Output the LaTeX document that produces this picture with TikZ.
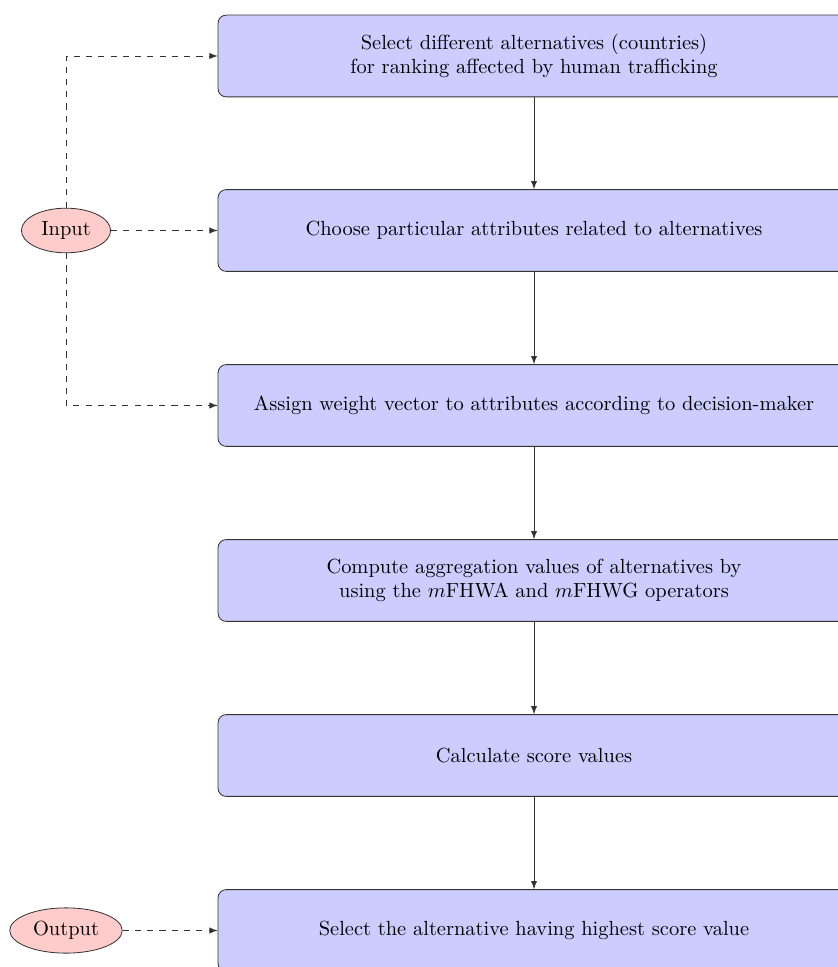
\documentclass[tikz,border=0pt]{standalone}
\usetikzlibrary{shapes.geometric,arrows}
\begin{document}
\begin{tikzpicture}[x=0.489pt,y=-0.489pt,>=latex,
  stepbox/.style={draw=black!80,fill=blue!20,rounded corners=4pt,minimum width=309pt,minimum height=40pt,align=center,inner sep=2pt},
  ioell/.style={draw=black!80,fill=red!20,ellipse},
  flow/.style={->,draw=black!80},
  dflow/.style={->,draw=black!80,dashed}]
\useasboundingbox (0,0) rectangle (837,967);
\node[stepbox] (s1) at (534,56) {Select different alternatives (countries)\\for ranking affected by human trafficking};
\node[stepbox] (s2) at (534,230.5) {Choose particular attributes related to alternatives};
\node[stepbox] (s3) at (534,405.5) {Assign weight vector to attributes according to decision-maker};
\node[stepbox] (s4) at (534,580.5) {Compute aggregation values of alternatives by\\using the $m$FHWA and $m$FHWG operators};
\node[stepbox] (s5) at (534,755.5) {Calculate score values};
\node[stepbox] (s6) at (534,930.5) {Select the alternative having highest score value};
\node[ioell] (in) at (66,230.5) {Input};
\node[ioell] (out) at (66,930.5) {Output};
\draw[flow] (s1) -- (s2);
\draw[flow] (s2) -- (s3);
\draw[flow] (s3) -- (s4);
\draw[flow] (s4) -- (s5);
\draw[flow] (s5) -- (s6);
\draw[dflow] (in) -- (s2);
\draw[dflow] (in.north) |- (s1.west);
\draw[dflow] (in.south) |- (s3.west);
\draw[dflow] (out) -- (s6);
\end{tikzpicture}
\end{document}
